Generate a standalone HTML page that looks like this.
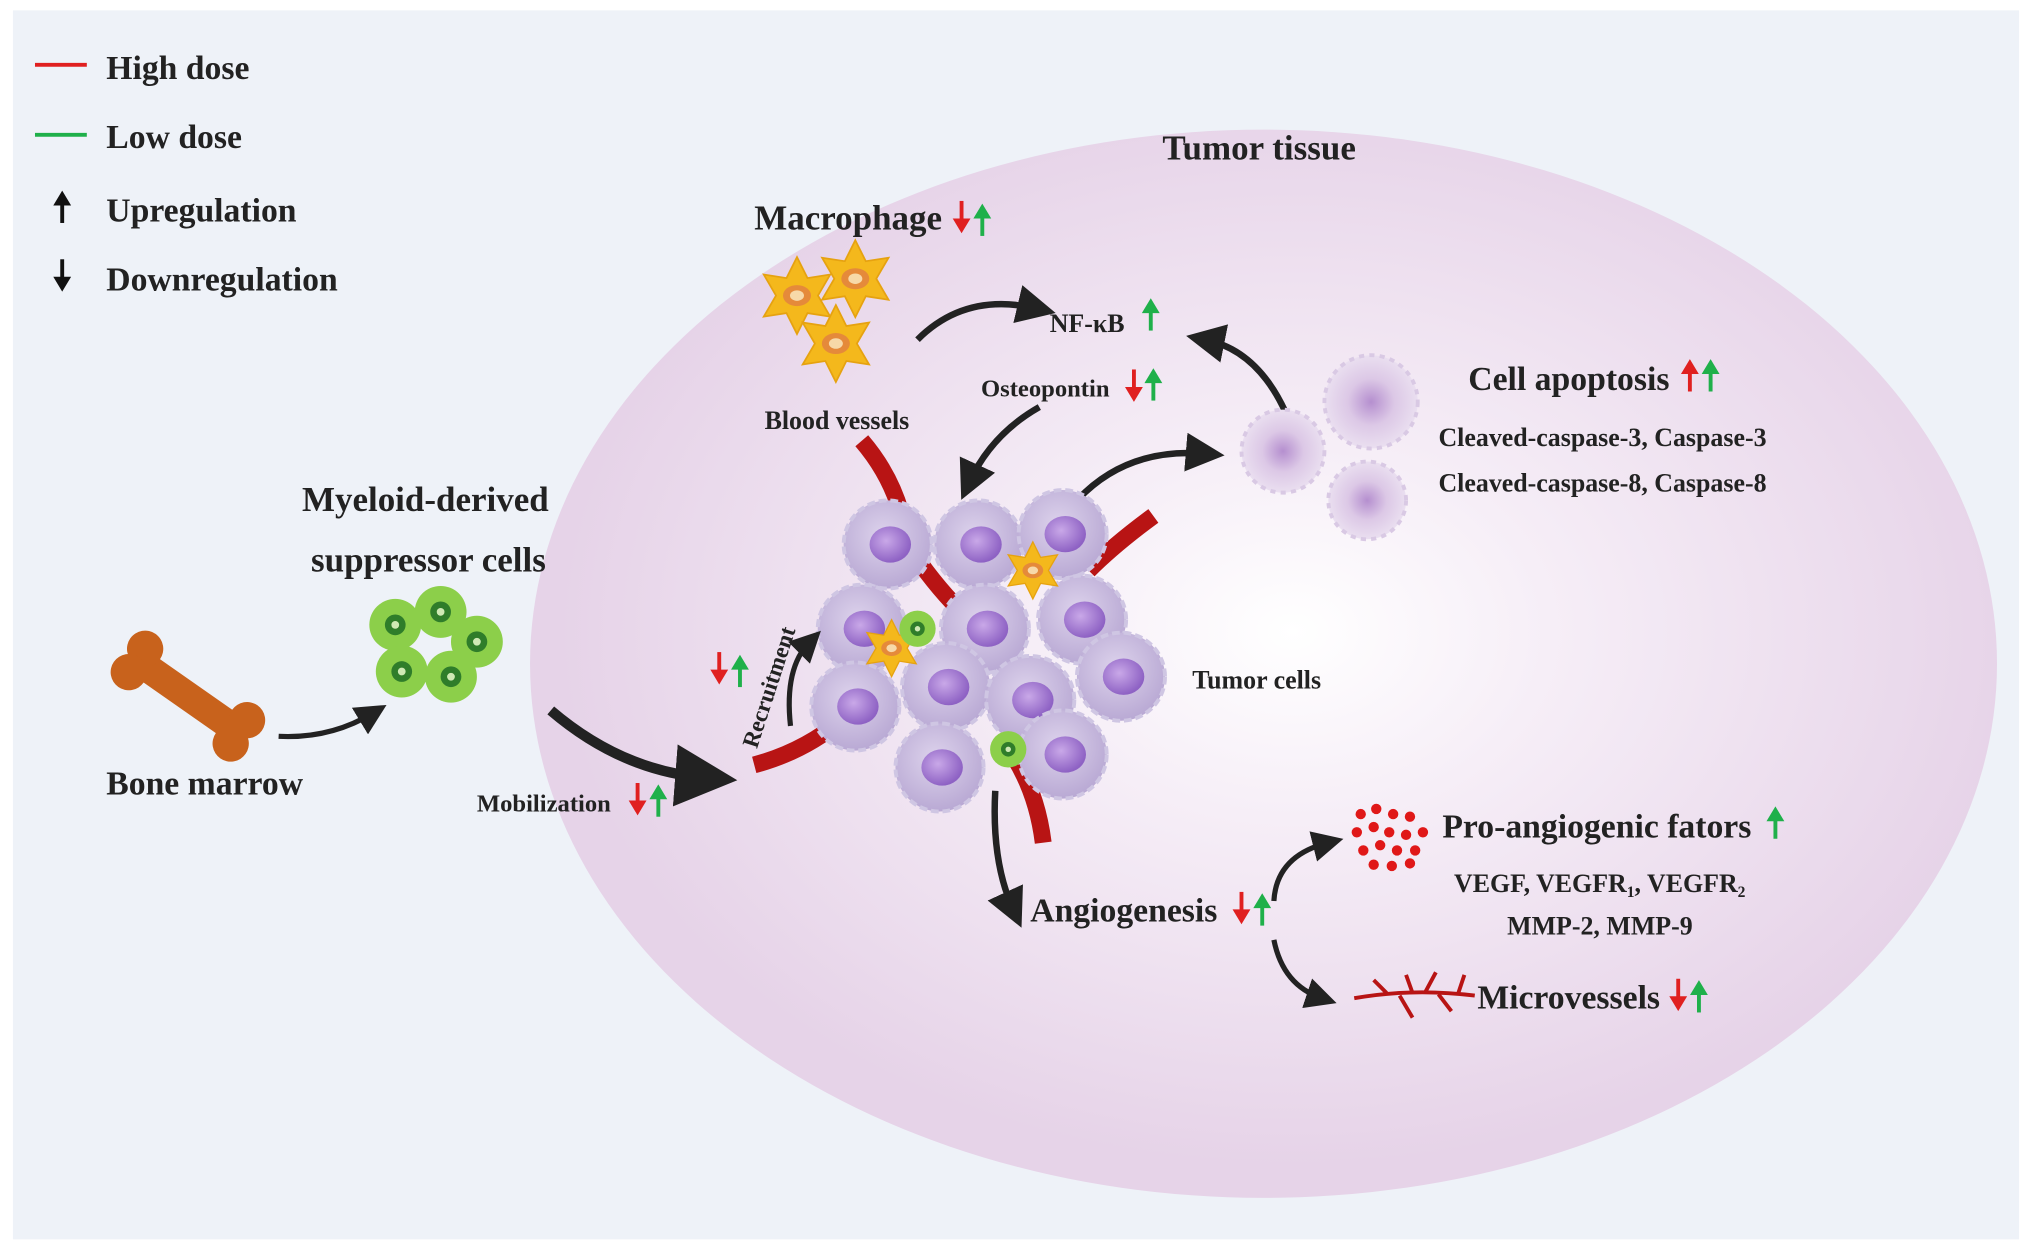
<!DOCTYPE html>
<html><head><meta charset="utf-8"><style>
html,body{margin:0;padding:0;background:#fff;}
svg{display:block;}
text{font-family:"Liberation Serif",serif;font-weight:bold;fill:#222;}
</style></head><body>
<svg width="2032" height="1251" viewBox="0 0 1568 965" preserveAspectRatio="none" xmlns="http://www.w3.org/2000/svg">
<defs>
<radialGradient id="tis" cx="0.52" cy="0.47" r="0.5">
<stop offset="0" stop-color="#ffffff"/><stop offset="0.35" stop-color="#f6eef7"/><stop offset="1" stop-color="#e6d3e8"/>
</radialGradient>
<radialGradient id="cell" cx="0.45" cy="0.4" r="0.6">
<stop offset="0" stop-color="#ddd3ec"/><stop offset="1" stop-color="#b9a9d4"/>
</radialGradient>
<radialGradient id="nuc" cx="0.4" cy="0.4" r="0.6">
<stop offset="0" stop-color="#c9a8e8"/><stop offset="1" stop-color="#8e62c4"/>
</radialGradient>
<radialGradient id="apo" cx="0.5" cy="0.5" r="0.5">
<stop offset="0" stop-color="#b58fcf"/><stop offset="0.5" stop-color="#dcc8e6"/><stop offset="1" stop-color="#eadff0"/>
</radialGradient>
<marker id="ah" markerWidth="6" markerHeight="6" refX="3" refY="3" orient="auto"><path d="M0,0 L6,3 L0,6 z" fill="#222"/></marker>
<g id="tc"><circle r="34" fill="url(#cell)" stroke="#cfc6e3" stroke-width="3" stroke-dasharray="6 3"/><ellipse cx="2" cy="0" rx="16" ry="14" fill="url(#nuc)"/></g>
<g id="star"><polygon points="0,-22 6,-10 19,-12 12,0 19,12 6,10 0,22 -6,10 -19,12 -12,0 -19,-12 -6,-10" fill="#f4b81c" stroke="#e6a210"/><ellipse rx="8" ry="6" fill="#e58a3a"/><ellipse rx="4" ry="3" fill="#f7d9a8"/></g>
<g id="gc"><circle r="20" fill="#8ccf4a"/><circle r="8" fill="#2f7d2a"/><circle r="3" fill="#cfe9b5"/></g>
<g id="up"><line x1="0" y1="22" x2="0" y2="6" stroke-width="3"/><path d="M-6,8 L0,-2 L6,8 z"/></g>
<g id="dn"><line x1="0" y1="-2" x2="0" y2="14" stroke-width="3"/><path d="M-6,12 L0,22 L6,12 z"/></g>
</defs>
<rect x="0" y="0" width="1568" height="965" fill="#fff"/>
<rect x="10" y="8" width="1548" height="948" fill="#eef2f8"/>
<ellipse cx="975" cy="512" rx="566" ry="412" fill="url(#tis)"/>

<!-- legend -->
<line x1="27" y1="50" x2="67" y2="50" stroke="#e02020" stroke-width="3"/>
<text x="82" y="61" font-size="26">High dose</text>
<line x1="27" y1="104" x2="67" y2="104" stroke="#1fb04a" stroke-width="3"/>
<text x="82" y="114" font-size="26">Low dose</text>
<g transform="translate(48,150)" fill="#111" stroke="#111"><use href="#up"/></g>
<text x="82" y="171" font-size="26">Upregulation</text>
<g transform="translate(48,202)" fill="#111" stroke="#111"><use href="#dn"/></g>
<text x="82" y="224" font-size="26">Downregulation</text>

<text x="897" y="123" font-size="27">Tumor tissue</text>

<!-- macrophage -->
<text x="582" y="177" font-size="27">Macrophage</text>
<g transform="translate(742,157)" fill="#e02020" stroke="#e02020"><use href="#dn"/></g>
<g transform="translate(758,160)" fill="#1fb04a" stroke="#1fb04a"><use href="#up"/></g>
<use href="#star" transform="translate(615,228) scale(1.35)"/>
<use href="#star" transform="translate(660,215) scale(1.35)"/>
<use href="#star" transform="translate(645,265) scale(1.35)"/>
<path d="M708,262 Q745,225 800,238" fill="none" stroke="#222" stroke-width="5" marker-end="url(#ah)"/>
<text x="810" y="256" font-size="20">NF-κB</text>
<g transform="translate(888,233)" fill="#1fb04a" stroke="#1fb04a"><use href="#up"/></g>
<path d="M992,318 Q970,270 930,262" fill="none" stroke="#222" stroke-width="5" marker-end="url(#ah)"/>
<text x="757" y="306" font-size="19">Osteopontin</text>
<g transform="translate(875,287)" fill="#e02020" stroke="#e02020"><use href="#dn"/></g>
<g transform="translate(890,287)" fill="#1fb04a" stroke="#1fb04a"><use href="#up"/></g>
<text x="590" y="331" font-size="20">Blood vessels</text>
<path d="M802,314 Q765,335 748,372" fill="none" stroke="#222" stroke-width="5" marker-end="url(#ah)"/>

<!-- apoptosis -->
<circle cx="990" cy="348" r="32" fill="url(#apo)" stroke="#d9c9e4" stroke-width="3" stroke-dasharray="4 4"/>
<circle cx="1058" cy="310" r="36" fill="url(#apo)" stroke="#d9c9e4" stroke-width="3" stroke-dasharray="4 4"/>
<circle cx="1055" cy="386" r="30" fill="url(#apo)" stroke="#d9c9e4" stroke-width="3" stroke-dasharray="4 4"/>
<text x="1133" y="301" font-size="26">Cell apoptosis</text>
<g transform="translate(1304,280)" fill="#e02020" stroke="#e02020"><use href="#up"/></g>
<g transform="translate(1320,280)" fill="#1fb04a" stroke="#1fb04a"><use href="#up"/></g>
<text x="1110" y="344" font-size="20">Cleaved-caspase-3, Caspase-3</text>
<text x="1110" y="379" font-size="20">Cleaved-caspase-8, Caspase-8</text>
<path d="M832,385 Q870,345 930,350" fill="none" stroke="#222" stroke-width="5" marker-end="url(#ah)"/>

<!-- vessels -->
<g stroke="#b81414" stroke-width="13" fill="none" stroke-linecap="butt">
<path d="M665,340 Q695,375 700,420 Q720,450 740,470"/>
<path d="M890,398 Q860,420 840,440"/>
<path d="M582,590 Q620,580 650,555"/>
<path d="M780,580 Q800,610 805,650"/>
</g>

<!-- tumor cluster -->
<use href="#tc" transform="translate(685,420)"/>
<use href="#tc" transform="translate(755,420)"/>
<use href="#tc" transform="translate(820,412)"/>
<use href="#tc" transform="translate(665,485)"/>
<use href="#tc" transform="translate(760,485)"/>
<use href="#tc" transform="translate(835,478)"/>
<use href="#tc" transform="translate(660,545)"/>
<use href="#tc" transform="translate(730,530)"/>
<use href="#tc" transform="translate(795,540)"/>
<use href="#tc" transform="translate(865,522)"/>
<use href="#tc" transform="translate(725,592)"/>
<use href="#tc" transform="translate(820,582)"/>
<use href="#star" transform="translate(797,440)"/>
<use href="#star" transform="translate(688,500)"/>
<use href="#gc" transform="translate(708,485) scale(0.7)"/>
<use href="#gc" transform="translate(778,578) scale(0.7)"/>
<text x="920" y="531" font-size="20">Tumor cells</text>

<!-- MDSC -->
<text x="233" y="394" font-size="27">Myeloid-derived</text>
<text x="240" y="441" font-size="27">suppressor cells</text>
<use href="#gc" transform="translate(305,482)"/>
<use href="#gc" transform="translate(340,472)"/>
<use href="#gc" transform="translate(368,495)"/>
<use href="#gc" transform="translate(310,518)"/>
<use href="#gc" transform="translate(348,522)"/>
<!-- bone -->
<g transform="translate(145,537) rotate(35)" fill="#c8621c">
<rect x="-45" y="-11" width="90" height="22"/>
<circle cx="-48" cy="-11" r="14"/><circle cx="-48" cy="11" r="14"/>
<circle cx="48" cy="-11" r="14"/><circle cx="48" cy="11" r="14"/>
</g>
<text x="82" y="613" font-size="26">Bone marrow</text>
<path d="M215,568 Q255,570 288,550" fill="none" stroke="#222" stroke-width="4" marker-end="url(#ah)"/>
<text x="368" y="626" font-size="19">Mobilization</text>
<g transform="translate(492,606)" fill="#e02020" stroke="#e02020"><use href="#dn"/></g>
<g transform="translate(508,608)" fill="#1fb04a" stroke="#1fb04a"><use href="#up"/></g>
<path d="M425,548 Q480,595 545,600" fill="none" stroke="#222" stroke-width="8" marker-end="url(#ah)"/>
<text x="0" y="0" font-size="18" transform="translate(584,578) rotate(-72)">Recruitment</text>
<path d="M610,560 Q605,515 625,495" fill="none" stroke="#222" stroke-width="4" marker-end="url(#ah)"/>
<g transform="translate(555,505)" fill="#e02020" stroke="#e02020"><use href="#dn"/></g>
<g transform="translate(571,508)" fill="#1fb04a" stroke="#1fb04a"><use href="#up"/></g>

<!-- angiogenesis -->
<path d="M768,610 Q765,665 782,702" fill="none" stroke="#222" stroke-width="5" marker-end="url(#ah)"/>
<text x="795" y="711" font-size="26">Angiogenesis</text>
<g transform="translate(958,690)" fill="#e02020" stroke="#e02020"><use href="#dn"/></g>
<g transform="translate(974,692)" fill="#1fb04a" stroke="#1fb04a"><use href="#up"/></g>
<path d="M983,695 Q985,660 1025,650" fill="none" stroke="#222" stroke-width="4" marker-end="url(#ah)"/>
<path d="M983,725 Q990,760 1020,770" fill="none" stroke="#222" stroke-width="4" marker-end="url(#ah)"/>
<g fill="#e01818">
<circle cx="1050" cy="628" r="4"/><circle cx="1062" cy="624" r="4"/><circle cx="1075" cy="628" r="4"/><circle cx="1088" cy="630" r="4"/>
<circle cx="1047" cy="642" r="4"/><circle cx="1060" cy="638" r="4"/><circle cx="1072" cy="642" r="4"/><circle cx="1085" cy="644" r="4"/><circle cx="1098" cy="642" r="4"/>
<circle cx="1052" cy="656" r="4"/><circle cx="1065" cy="652" r="4"/><circle cx="1078" cy="656" r="4"/><circle cx="1092" cy="656" r="4"/>
<circle cx="1060" cy="667" r="4"/><circle cx="1074" cy="668" r="4"/><circle cx="1088" cy="666" r="4"/>
</g>
<text x="1113" y="646" font-size="26">Pro-angiogenic fators</text>
<g transform="translate(1370,625)" fill="#1fb04a" stroke="#1fb04a"><use href="#up"/></g>
<text x="1122" y="688" font-size="20">VEGF, VEGFR<tspan font-size="12" dy="4">1</tspan><tspan dy="-4">, VEGFR</tspan><tspan font-size="12" dy="4">2</tspan></text>
<text x="1163" y="721" font-size="20">MMP-2, MMP-9</text>
<g stroke="#b81414" stroke-width="3" fill="none">
<path d="M1045,770 Q1090,762 1138,768"/>
<path d="M1070,766 L1060,756"/><path d="M1080,768 L1090,785"/><path d="M1100,765 L1108,750"/>
<path d="M1110,767 L1120,780"/><path d="M1125,767 L1130,752"/><path d="M1090,766 L1085,752"/>
</g>
<text x="1140" y="778" font-size="26">Microvessels</text>
<g transform="translate(1295,757)" fill="#e02020" stroke="#e02020"><use href="#dn"/></g>
<g transform="translate(1311,759)" fill="#1fb04a" stroke="#1fb04a"><use href="#up"/></g>
</svg>
</body></html>
